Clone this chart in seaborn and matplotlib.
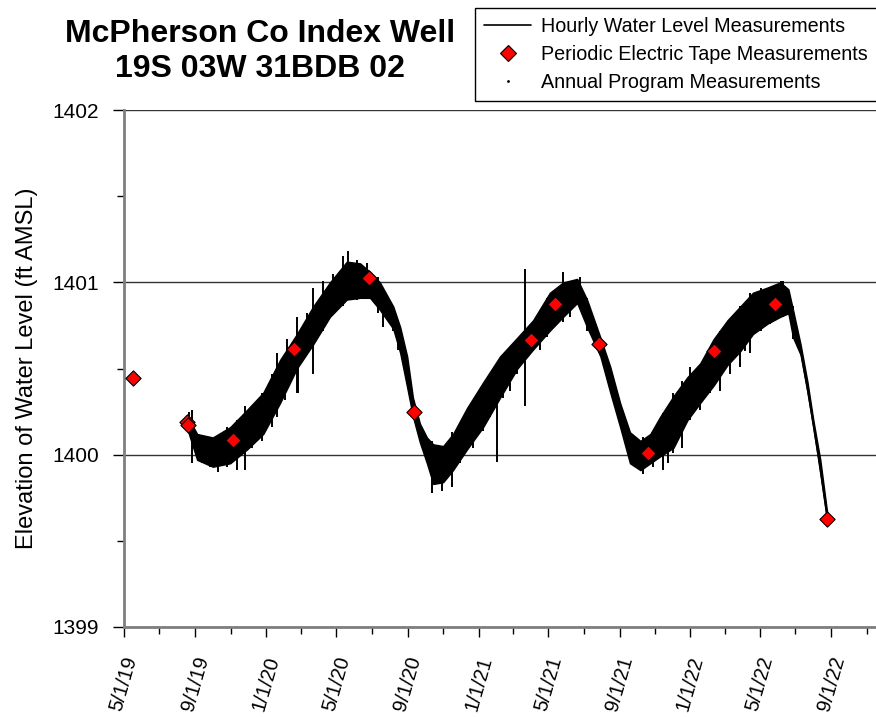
import matplotlib
matplotlib.use("Agg")
import matplotlib.pyplot as plt
import matplotlib.dates as mdates
from matplotlib.lines import Line2D
from matplotlib.ticker import MultipleLocator, FormatStrFormatter
import seaborn as sns
import pandas as pd

# ---------------- data ----------------
# Hourly water level band: date, lower envelope, upper envelope (ft AMSL)
hourly_dates = [
    "2019-08-19", "2019-09-04", "2019-10-01", "2019-10-31", "2019-11-29", "2019-12-27",
    "2020-01-25", "2020-02-23", "2020-03-22", "2020-04-20", "2020-05-19", "2020-06-11",
    "2020-06-28", "2020-07-15", "2020-08-07", "2020-08-19", "2020-08-31", "2020-09-10",
    "2020-09-22", "2020-10-04", "2020-10-15", "2020-11-01", "2020-11-18", "2020-12-12",
    "2021-01-09", "2021-02-07", "2021-03-09", "2021-04-05", "2021-05-04", "2021-05-27",
    "2021-06-20", "2021-07-07", "2021-07-30", "2021-08-16", "2021-09-02", "2021-09-19",
    "2021-10-07", "2021-10-24", "2021-11-10", "2021-12-03", "2021-12-27", "2022-01-18",
    "2022-02-10", "2022-03-06", "2022-03-28", "2022-04-19", "2022-05-14", "2022-06-05",
    "2022-06-19", "2022-06-27", "2022-07-10", "2022-07-22", "2022-08-01", "2022-08-13",
    "2022-08-25",
]
hourly_low = [
    1400.14, 1399.97, 1399.93, 1399.95, 1400.03, 1400.12,
    1400.30, 1400.50, 1400.64, 1400.80, 1400.90, 1400.91,
    1400.91, 1400.84, 1400.73, 1400.59, 1400.39, 1400.22,
    1400.07, 1399.95, 1399.83, 1399.84, 1399.91, 1400.03,
    1400.16, 1400.33, 1400.50, 1400.61, 1400.72, 1400.80,
    1400.88, 1400.74, 1400.57, 1400.36, 1400.16, 1399.95,
    1399.91, 1399.95, 1399.99, 1400.04, 1400.20, 1400.30,
    1400.40, 1400.52, 1400.60, 1400.70, 1400.76, 1400.80,
    1400.82, 1400.68, 1400.58, 1400.36, 1400.16, 1399.89,
    1399.62,
]
hourly_high = [
    1400.22, 1400.12, 1400.10, 1400.16, 1400.26, 1400.36,
    1400.55, 1400.70, 1400.86, 1401.00, 1401.12, 1401.11,
    1401.06, 1401.00, 1400.86, 1400.74, 1400.57, 1400.33,
    1400.18, 1400.10, 1400.06, 1400.05, 1400.12, 1400.27,
    1400.42, 1400.57, 1400.68, 1400.78, 1400.94, 1401.00,
    1401.02, 1400.90, 1400.68, 1400.51, 1400.30, 1400.13,
    1400.08, 1400.12, 1400.22, 1400.34, 1400.45, 1400.53,
    1400.67, 1400.78, 1400.86, 1400.94, 1400.97, 1401.00,
    1400.96, 1400.84, 1400.64, 1400.42, 1400.20, 1399.97,
    1399.66,
]

# Individual spikes of the hourly record: date, low, high
spike_dates = [
    "2019-08-21", "2019-08-26", "2019-09-12", "2019-09-26", "2019-10-10", "2019-10-26",
    "2019-11-12", "2019-11-26", "2019-12-08", "2019-12-25", "2020-01-11", "2020-01-20",
    "2020-02-03", "2020-02-06", "2020-02-23", "2020-02-25", "2020-03-11", "2020-03-22",
    "2020-04-08", "2020-04-25", "2020-05-13", "2020-05-21", "2020-06-06", "2020-06-23",
    "2020-07-12", "2020-07-21", "2020-08-07", "2020-08-15",
    "2020-10-13", "2020-10-30", "2020-11-17", "2020-11-30", "2020-12-23", "2021-01-09",
    "2021-01-21", "2021-02-01", "2021-02-12", "2021-02-25", "2021-03-09", "2021-03-22",
    "2021-04-17", "2021-04-29", "2021-05-17", "2021-05-27", "2021-06-08", "2021-06-25",
    "2021-07-07",
    "2021-10-12", "2021-10-29", "2021-11-15", "2021-11-23", "2021-12-03", "2021-12-18",
    "2022-01-01", "2022-01-18", "2022-02-04", "2022-02-22", "2022-03-11", "2022-03-28",
    "2022-04-05", "2022-04-14", "2022-05-02", "2022-05-19", "2022-06-07", "2022-06-10",
    "2022-06-27",
]
spike_low = [
    1400.15, 1399.95, 1399.95, 1399.93, 1399.90, 1399.93,
    1399.91, 1399.91, 1400.04, 1400.08, 1400.16, 1400.22,
    1400.32, 1400.39, 1400.36, 1400.36, 1400.59, 1400.47,
    1400.72, 1400.84, 1400.86, 1400.91, 1400.90, 1400.94,
    1400.82, 1400.74, 1400.72, 1400.61,
    1399.78, 1399.79, 1399.81, 1399.95, 1400.04, 1400.14,
    1400.22, 1399.96, 1400.33, 1400.37, 1400.47, 1400.28,
    1400.61, 1400.68, 1400.76, 1400.77, 1400.80, 1400.90,
    1400.72,
    1399.89, 1399.93, 1399.91, 1399.95, 1400.01, 1400.04,
    1400.20, 1400.26, 1400.36, 1400.37, 1400.47, 1400.51,
    1400.60, 1400.59, 1400.72, 1400.76, 1400.85, 1400.80,
    1400.67,
]
spike_high = [
    1400.25, 1400.26, 1400.10, 1400.10, 1400.10, 1400.16,
    1400.20, 1400.28, 1400.28, 1400.36, 1400.47, 1400.59,
    1400.57, 1400.67, 1400.80, 1400.65, 1400.82, 1400.97,
    1401.01, 1401.05, 1401.15, 1401.18, 1401.13, 1401.11,
    1401.03, 1400.91, 1400.86, 1400.74,
    1400.08, 1400.03, 1400.13, 1400.18, 1400.30, 1400.36,
    1400.45, 1400.40, 1400.55, 1400.62, 1400.67, 1401.08,
    1400.82, 1400.91, 1400.97, 1401.06, 1401.01, 1401.03,
    1400.91,
    1400.10, 1400.13, 1400.24, 1400.15, 1400.36, 1400.43,
    1400.51, 1400.51, 1400.62, 1400.72, 1400.78, 1400.86,
    1400.80, 1400.94, 1400.97, 1400.97, 1401.01, 1401.01,
    1400.86,
]

# Periodic electric tape measurements
tape_dates = [
    "2019-05-16", "2019-08-18", "2019-08-20", "2019-11-05", "2020-02-18", "2020-06-26",
    "2020-09-12", "2021-04-02", "2021-05-13", "2021-07-28", "2021-10-20", "2022-02-10",
    "2022-05-27", "2022-08-25",
]
tape_levels = [
    1400.445, 1400.19, 1400.17, 1400.085, 1400.613, 1401.025,
    1400.247, 1400.665, 1400.874, 1400.642, 1400.009, 1400.601,
    1400.874, 1399.626,
]

# Annual program measurements (none fall inside the plotted range)
annual_dates = []
annual_levels = []

title_lines = ["McPherson Co Index Well", "19S 03W 31BDB 02"]
y_label = "Elevation of Water Level (ft AMSL)"
legend_labels = ["Hourly Water Level Measurements",
                 "Periodic Electric Tape Measurements",
                 "Annual Program Measurements"]

# ---------------- frames ----------------
hourly = pd.DataFrame({"date": pd.to_datetime(hourly_dates),
                       "low": hourly_low, "high": hourly_high})
hourly["mid"] = (hourly["low"] + hourly["high"]) / 2
spikes = pd.DataFrame({"date": pd.to_datetime(spike_dates),
                       "low": spike_low, "high": spike_high})
tape = pd.DataFrame({"date": pd.to_datetime(tape_dates), "level": tape_levels})
annual = pd.DataFrame({"date": pd.to_datetime(annual_dates), "level": annual_levels})

# ---------------- plot ----------------
sns.set_style("white")
plt.rcParams['font.family'] = ['Liberation Sans', 'DejaVu Sans']
plt.rcParams['text.color'] = 'black'
plt.rcParams['axes.labelcolor'] = 'black'
plt.rcParams['xtick.color'] = 'black'
plt.rcParams['ytick.color'] = 'black'

fig = plt.figure(figsize=(8.76, 7.17), dpi=100)
ax = fig.add_axes([124 / 876, 1 - 627 / 717, 1 - 124 / 876, (627 - 110) / 717])

ax.fill_between(hourly["date"], hourly["low"], hourly["high"],
                color="black", linewidth=1.0, edgecolor="black", zorder=3)
sns.lineplot(data=hourly, x="date", y="mid", color="black", linewidth=1.5,
             ax=ax, zorder=3)
ax.vlines(spikes["date"], spikes["low"], spikes["high"], color="black",
          linewidth=1.4, zorder=3)
if len(annual):
    ax.plot(annual["date"], annual["level"], ".", color="black", markersize=2)
sns.scatterplot(data=tape, x="date", y="level", marker="D", s=60,
                color="#ff0000", edgecolor="black", linewidth=0.8,
                ax=ax, zorder=5, clip_on=False)

ax.set_xlim(pd.Timestamp("2019-05-01"), pd.Timestamp("2022-11-17"))
ax.set_ylim(1399, 1402)
ax.yaxis.set_major_locator(MultipleLocator(1))
ax.yaxis.set_minor_locator(MultipleLocator(0.5))
ax.yaxis.set_major_formatter(FormatStrFormatter("%d"))
ax.xaxis.set_major_locator(mdates.MonthLocator(bymonth=[1, 5, 9]))
ax.xaxis.set_minor_locator(mdates.MonthLocator(bymonth=[3, 7, 11]))
ax.xaxis.set_major_formatter(mdates.DateFormatter("%-m/%-d/%y"))

ax.yaxis.grid(True, which="major", color="#333333", linewidth=1.0)
ax.xaxis.grid(False)
ax.set_axisbelow(True)

for s in ["top", "right"]:
    ax.spines[s].set_visible(False)
for s in ["left", "bottom"]:
    ax.spines[s].set_color("#7f7f7f")
    ax.spines[s].set_linewidth(2)

ax.tick_params(axis="y", which="major", direction="out", length=8, width=1,
               color="black", labelsize=15, pad=10, left=True)
ax.tick_params(axis="y", which="minor", direction="out", length=5, width=1,
               color="black", left=True)
ax.tick_params(axis="x", which="major", direction="out", length=7.5, width=1,
               color="black", labelsize=14.5, pad=12, bottom=True)
ax.tick_params(axis="x", which="minor", direction="out", length=5, width=1,
               color="black", bottom=True)
for lab in ax.get_xticklabels():
    lab.set_rotation(74)
    lab.set_ha("center")

ax.set_xlabel("")
ax.set_ylabel(y_label, fontsize=17, labelpad=10)

fig.text(260 / 876, 1 - 42 / 717, title_lines[0], ha="center", va="baseline",
         fontsize=23, fontweight="bold")
fig.text(260 / 876, 1 - 77 / 717, title_lines[1], ha="center", va="baseline",
         fontsize=23, fontweight="bold")

handles = [
    Line2D([], [], color="black", linewidth=1.2),
    Line2D([], [], linestyle="none", marker="D", markersize=8,
           markerfacecolor="#ff0000", markeredgecolor="black", markeredgewidth=0.8),
    Line2D([], [], linestyle="none", marker=".", markersize=2, color="black"),
]
leg = fig.legend(handles, legend_labels, loc="upper left",
                 bbox_to_anchor=(475 / 876, 1 - 8 / 717), frameon=True,
                 fancybox=False, edgecolor="black", framealpha=1,
                 fontsize=14.2, handlelength=2.4, handletextpad=0.5,
                 borderpad=0.45, labelspacing=0.45, borderaxespad=0)
leg.get_frame().set_linewidth(1.0)

fig.savefig("out.png", dpi=100)
